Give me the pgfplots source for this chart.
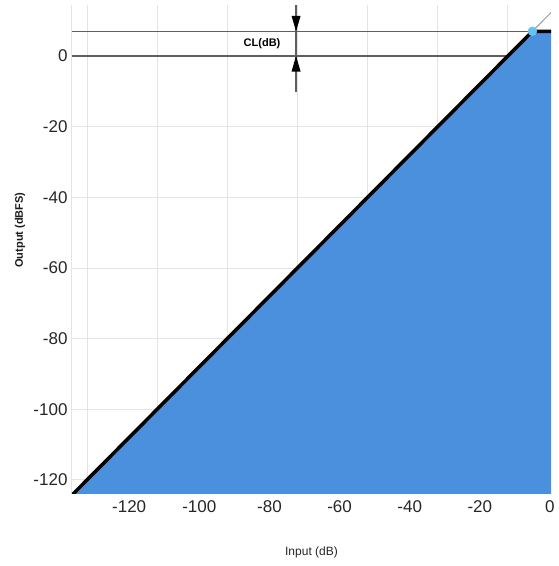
\documentclass[border=0pt]{standalone}
\usepackage{fontspec}
\setmainfont{Liberation Sans}
\usepackage{pgfplots}
\pgfplotsset{compat=1.18}
\usetikzlibrary{calc,arrows.meta}
\definecolor{fillblue}{RGB}{74,144,220}
\definecolor{dotblue}{RGB}{100,195,240}
\definecolor{refgray}{RGB}{95,95,95}
\definecolor{gridgray}{RGB}{228,228,228}
\begin{document}
\begin{tikzpicture}
\begin{axis}[
  name=ax,
  scale only axis, width=479pt, height=489pt,
  xmin=-136.3, xmax=0.3, ymin=-124, ymax=14.45,
  axis x line*=bottom, axis y line*=left,
  axis line style={draw=gridgray, line width=1pt, -},
  xtick={-120,-100,-80,-60,-40,-20,0},
  xticklabels={-120,-100,-80,-60,-40,-20,0},
  ytick={-120,-100,-80,-60,-40,-20,0},
  yticklabels={-120,-100,-80,-60,-40,-20,0},
  major tick length=0pt,
  ymajorgrids,
  grid style={gridgray, line width=0.8pt},
  extra x ticks={-132,-112,-92,-72,-52,-32,-12},
  extra x tick labels={},
  extra x tick style={grid=major, major tick length=0pt},
  tick label style={font=\fontsize{17}{20}\selectfont, text=black!85},
  xticklabel style={yshift=-3pt},
  yticklabel style={xshift=-1pt},
]
% reference lines
\addplot[refgray, line width=1.4pt] coordinates {(-136.3,7) (0.3,7)};
\addplot[refgray, line width=1.4pt] coordinates {(-136.3,0) (0.3,0)};
% filled area
\addplot[fill=fillblue, draw=none] coordinates {(-136.3,-124.3) (-5,7) (0.3,7) (0.3,-124.3)} -- cycle;
% thin continuation
\addplot[black!35, line width=1.2pt] coordinates {(-5,7) (0.3,12.3)};
% dots
\addplot[only marks, mark=*, mark size=4.5pt, dotblue, mark options={draw=dotblue, fill=dotblue}] coordinates {(-136.3,-124.3) (-5,7)};
% transfer curve
\addplot[black, line width=3.5pt, line join=round] coordinates {(-136.3,-124.3) (-5,7) (0.3,7)};
% CL annotation
\draw[refgray, line width=1.2pt] (axis cs:-72.4,14.45) -- (axis cs:-72.4,-10.3);
\fill[black] (axis cs:-72.4,7) -- (axis cs:-73.7,11.4) -- (axis cs:-71.1,11.4) -- cycle;
\fill[black] (axis cs:-72.4,0) -- (axis cs:-73.7,-4.4) -- (axis cs:-71.1,-4.4) -- cycle;
\node[font=\bfseries\fontsize{11}{13}\selectfont] at (axis cs:-82.1,3.5) {CL(dB)};
\end{axis}
\node[font=\fontsize{12}{14}\selectfont, text=black!85] at ($(ax.south)+(0,-58pt)$) {Input (dB)};
\node[font=\bfseries\fontsize{11}{13}\selectfont, rotate=90, text=black!90] at ($(ax.south west)+(-52pt,264pt)$) {Output (dBFS)};
\path[use as bounding box] ($(ax.south west)+(-72pt,-72pt)$) rectangle ($(ax.north east)+(0pt,5pt)$);
\end{tikzpicture}
\end{document}
